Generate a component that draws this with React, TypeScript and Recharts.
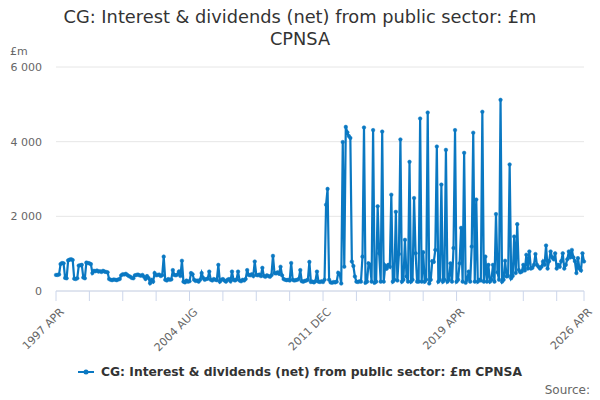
import { LineChart, Line, XAxis, YAxis, CartesianGrid } from 'recharts';

// monthly values, £m, from 1997 APR
const values1997 = [
  430, 430, 440, 720, 750, 740, 350, 340, 820, 840, 850, 830, 330, 320, 340, 680, 690, 700, 360, 340, 760, 750, 740, 720,
  480, 540, 530, 550, 520, 530, 510, 540, 520, 510, 500, 320, 300, 290, 310, 300, 290, 310, 320, 420, 450, 440, 460, 430, 400,
];
const values2001 = [
  380, 350, 340, 420, 430, 440, 420, 410, 430, 380, 320, 400, 350, 210, 300, 250, 480, 420, 430, 440, 400, 420, 920, 300,
  280, 320, 300, 310, 560, 430, 420, 440, 520, 400, 810, 250, 230, 280, 250, 260, 480, 450, 300, 270, 280, 250, 300, 480,
];
const values2005 = [
  350, 300, 320, 330, 520, 300, 280, 320, 300, 290, 700, 250, 300, 320, 280, 250, 300, 320, 260, 520, 300, 280, 310, 520,
  280, 260, 300, 280, 320, 560, 430, 420, 450, 400, 790, 430, 420, 440, 400, 620, 400, 380, 420, 400, 380, 420, 940, 480,
  470, 500, 460,
];
const values2009 = [
  650, 420, 320, 300, 290, 300, 280, 750, 300, 280, 290, 300, 320, 560, 260, 250, 270, 280, 300, 780, 240, 250, 230, 260,
  520, 250, 240, 260, 240, 300, 2310, 2735, 300, 230, 220, 240, 230, 250, 490, 450, 200,
];
const values2013 = [
  3990, 650, 4395, 4250, 4150, 4100, 790, 670, 390, 250, 240, 260, 250, 920, 4380, 220, 250, 740, 700, 250, 4310, 220,
  250, 2270, 1010, 250, 4270, 250, 680, 600, 700, 650, 2580, 250, 300, 2120, 280, 990, 4060, 250, 300, 1370, 390, 250,
  3460, 250, 300, 2490, 1010, 250, 250, 4620,
];
const values2017 = [
  250, 1040, 250, 300, 4780, 200, 300, 800, 780, 1100, 3870, 250, 300, 2850, 250, 300, 3780, 250, 300, 740, 250, 1150,
  4310, 250, 300, 740, 1690, 250, 3700, 220, 300, 520, 250, 1190, 4240, 250, 2450, 250, 300, 280, 4800, 250, 920, 250,
  700, 250, 300, 700, 250, 2060, 500, 300, 5120, 250, 300, 810, 390, 400, 3390, 340, 400, 1460, 480, 1790, 560,
];
const values2022 = [
  500, 520, 700, 550, 970, 600, 1060, 600, 620, 700, 990, 700, 650, 600, 650, 790, 700, 1220, 600, 800, 1060, 900, 850,
  1010, 600, 700, 650, 800, 1010, 600, 700, 850, 1060, 900, 1100, 900, 800, 480, 880, 600, 550, 1010, 790,
];

const monthNames = ['JAN', 'FEB', 'MAR', 'APR', 'MAY', 'JUN', 'JUL', 'AUG', 'SEP', 'OCT', 'NOV', 'DEC'];
const allValues = [...values1997, ...values2001, ...values2005, ...values2009, ...values2013, ...values2017, ...values2022];

const data = allValues.map((v, i) => {
  const m = 3 + i;
  return { month: `${1997 + Math.floor(m / 12)} ${monthNames[m % 12]}`, value: v };
});

const majorTicks = ['1997 APR', '2004 AUG', '2011 DEC', '2019 APR', '2026 APR'];
const xTicks = data.filter((_, i) => i % 22 === 0 || i === data.length - 1).map((d) => d.month);
const yTicks = [0, 2000, 4000, 6000];

const font = '"DejaVu Sans", Verdana, sans-serif';
const blue = '#0a78c2';

const fmt = (v: number) => String(v).replace(/\B(?=(\d{3})+(?!\d))/g, ' ');

const XTick = ({ x, y, payload }: any) => {
  if (!majorTicks.includes(payload.value)) return null;
  return (
    <g transform={`translate(${x + 3},${y + 4})`}>
      <text transform="rotate(-45)" textAnchor="end" dy={8} fontSize={11} fill="#666" fontFamily={font}>
        {payload.value}
      </text>
    </g>
  );
};

const YTick = ({ y, payload }: any) => (
  <text x={42} y={y} dy={4} textAnchor="end" fontSize={11} fill="#666" fontFamily={font}>
    {fmt(payload.value)}
  </text>
);

export default function App() {
  return (
    <div style={{ position: 'relative', width: 600, height: 400, fontFamily: font, background: '#fff' }}>
      <style>{'body{margin:0}'}</style>
      <div style={{ position: 'absolute', top: 6, left: 0, width: 600, textAlign: 'center', fontSize: 17.8, lineHeight: '22px', color: '#333' }}>
        CG: Interest &amp; dividends (net) from public sector: £m
        <br />
        CPNSA
      </div>
      <div style={{ position: 'absolute', top: 45, left: 10, fontSize: 11, color: '#666' }}>£m</div>
      <LineChart width={600} height={400} data={data} margin={{ top: 67, right: 16, bottom: 49, left: 8 }}>
        <CartesianGrid vertical={false} stroke="#e6e6e6" />
        <XAxis
          dataKey="month"
          ticks={xTicks}
          interval={0}
          tick={<XTick />}
          tickSize={10}
          height={60}
          stroke="#ccd6eb"
          tickLine={{ stroke: '#ccd6eb' }}
        />
        <YAxis domain={[0, 6000]} ticks={yTicks} width={48} axisLine={false} tickLine={false} tick={<YTick />} />
        <Line
          type="linear"
          dataKey="value"
          stroke={blue}
          strokeWidth={2.2}
          dot={{ r: 1.8, fill: blue, stroke: blue, strokeWidth: 0.5 }}
          isAnimationActive={false}
        />
      </LineChart>
      <div style={{ position: 'absolute', top: 365, left: 0, width: 600, display: 'flex', justifyContent: 'center', alignItems: 'center' }}>
        <svg width={18} height={10} style={{ marginRight: 5 }}>
          <line x1={0} y1={5} x2={16} y2={5} stroke={blue} strokeWidth={2} />
          <circle cx={8} cy={5} r={2.5} fill={blue} />
        </svg>
        <span style={{ fontSize: 12.3, fontWeight: 'bold', color: '#333' }}>
          CG: Interest &amp; dividends (net) from public sector: £m CPNSA
        </span>
      </div>
      <div style={{ position: 'absolute', top: 383, right: 10, fontSize: 12, color: '#666' }}>Source:</div>
    </div>
  );
}
